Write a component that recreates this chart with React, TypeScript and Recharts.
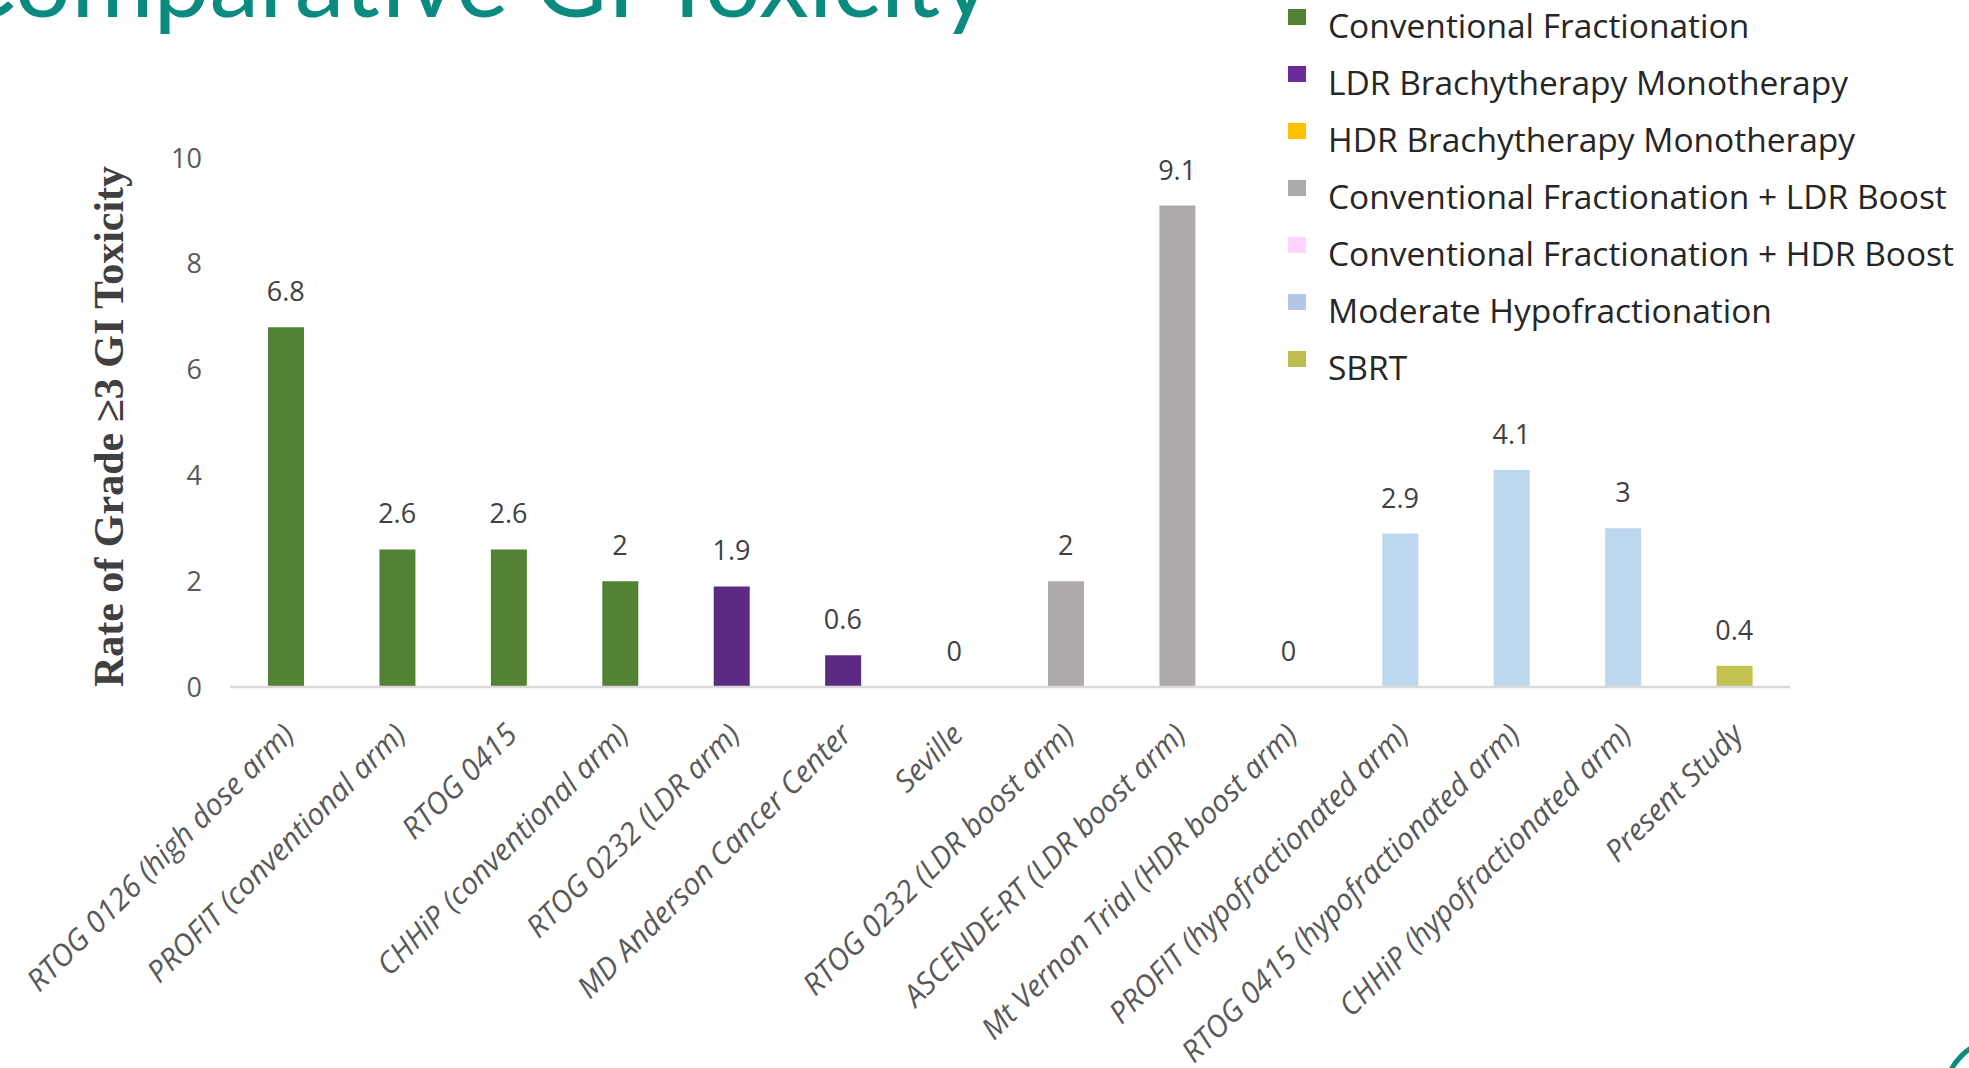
import { Bar, Cell, ComposedChart, LabelList, Legend, Line, XAxis, YAxis } from "recharts";

const studies = [
  "RTOG 0126 (high dose arm)",
  "PROFIT (conventional arm)",
  "RTOG 0415",
  "CHHiP (conventional arm)",
  "RTOG 0232 (LDR arm)",
  "MD Anderson Cancer Center",
  "Seville",
  "RTOG 0232 (LDR boost arm)",
  "ASCENDE-RT (LDR boost arm)",
  "Mt Vernon Trial (HDR boost arm)",
  "PROFIT (hypofractionated arm)",
  "RTOG 0415 (hypofractionated arm)",
  "CHHiP (hypofractionated arm)",
  "Present Study",
];
const giToxicity = [6.8, 2.6, 2.6, 2, 1.9, 0.6, 0, 2, 9.1, 0, 2.9, 4.1, 3, 0.4];
const studyGroup = [0, 0, 0, 0, 1, 1, 2, 3, 3, 4, 5, 5, 5, 6];

const groups = [
  "Conventional Fractionation",
  "LDR Brachytherapy Monotherapy",
  "HDR Brachytherapy Monotherapy",
  "Conventional Fractionation + LDR Boost",
  "Conventional Fractionation + HDR Boost",
  "Moderate Hypofractionation",
  "SBRT",
];
const groupColors = ["#548235", "#5b2a82", "#ffc000", "#aeaaaa", "#ffccff", "#bdd7ee", "#c3c14f"];
const legendColors = ["#548235", "#6a2c9a", "#ffc000", "#aeaaaa", "#ffd3fb", "#b4c7e7", "#bdbd4f"];
const yTicks = [0, 2, 4, 6, 8, 10];

const rows = studies.map((study, i) => ({
  study,
  value: giToxicity[i],
  group: studyGroup[i],
}));

const sans = "'Open Sans', sans-serif";

function StudyTick({ x, y, payload }: any) {
  return (
    <text
      transform={`translate(${x + 3},${y + 42}) rotate(-45)`}
      textAnchor="end"
      dy="0.35em"
      fill="#595959"
      fontSize={30}
      fontStyle="italic"
      fontFamily={sans}
    >
      {payload.value}
    </text>
  );
}

function AxisTitle({ viewBox }: any) {
  const cx = viewBox.x - 22;
  const cy = viewBox.y + viewBox.height / 2 + 4;
  return (
    <text
      transform={`translate(${cx},${cy}) rotate(-90)`}
      textAnchor="middle"
      dy="0.35em"
      fill="#404040"
      fontSize={42}
      fontWeight="bold"
      fontFamily="'Liberation Serif', 'Times New Roman', serif"
    >
      Rate of Grade ≥3 GI Toxicity
    </text>
  );
}

function GroupLegend() {
  return (
    <div style={{ position: "relative", width: 681, height: 400 }}>
      {groups.map((name, i) => (
        <div
          key={name}
          style={{
            position: "absolute",
            left: 0,
            top: 5 + i * 57,
            height: 40,
            display: "flex",
            alignItems: "center",
          }}
        >
          <span
            style={{
              display: "inline-block",
              width: 18,
              height: 16,
              background: legendColors[i],
              marginTop: -16,
              marginRight: 22,
            }}
          />
          <span
            style={{
              fontFamily: sans,
              fontSize: 33.5,
              color: "#262626",
              whiteSpace: "nowrap",
            }}
          >
            {name}
          </span>
        </div>
      ))}
    </div>
  );
}

export default function App() {
  return (
    <div
      style={{
        position: "absolute",
        left: 0,
        top: 0,
        width: 1969,
        height: 1068,
        overflow: "hidden",
        background: "#ffffff",
      }}
    >
      <svg width={1969} height={80} style={{ position: "absolute", left: 0, top: 0 }}>
        <text
          x={992}
          y={17}
          textAnchor="end"
          fill="#0b8b7f"
          fontSize={100}
          fontFamily="Lato, sans-serif"
        >
          Comparative GI Toxicity
        </text>
      </svg>
      <ComposedChart
        width={1969}
        height={1068}
        data={rows}
        margin={{ top: 158, right: 179, bottom: 81, left: 130 }}
      >
        <XAxis
          dataKey="study"
          interval={0}
          height={300}
          tick={<StudyTick />}
          tickLine={false}
          tickSize={0}
          tickMargin={0}
          axisLine={{ stroke: "#d9d9d9", strokeWidth: 2.5 }}
        />
        <YAxis
          domain={[0, 10]}
          ticks={yTicks}
          width={100}
          axisLine={false}
          tickLine={false}
          tickSize={0}
          tickMargin={28}
          tick={{ fill: "#595959", fontSize: 27, fontFamily: sans }}
          label={<AxisTitle />}
        />
        <Legend
          layout="horizontal"
          verticalAlign="middle"
          align="center"
          content={<GroupLegend />}
          wrapperStyle={{ left: 1288, top: 0, width: 681, height: 400 }}
        />
        <Bar dataKey="value" barSize={36} isAnimationActive={false}>
          {rows.map((row, i) => (
            <Cell key={i} fill={groupColors[row.group]} />
          ))}
        </Bar>
        {/* invisible series so that the zero values still get their "0" label */}
        <Line
          dataKey="value"
          stroke="none"
          dot={false}
          activeDot={false}
          legendType="none"
          isAnimationActive={false}
        >
          <LabelList
            dataKey="value"
            position="top"
            offset={26}
            fill="#404040"
            fontSize={27}
            fontFamily={sans}
          />
        </Line>
      </ComposedChart>
      <div
        style={{
          position: "absolute",
          left: 1942,
          top: 1036,
          width: 112,
          height: 112,
          borderRadius: "50%",
          border: "5px solid #0b8b7f",
        }}
      />
    </div>
  );
}
